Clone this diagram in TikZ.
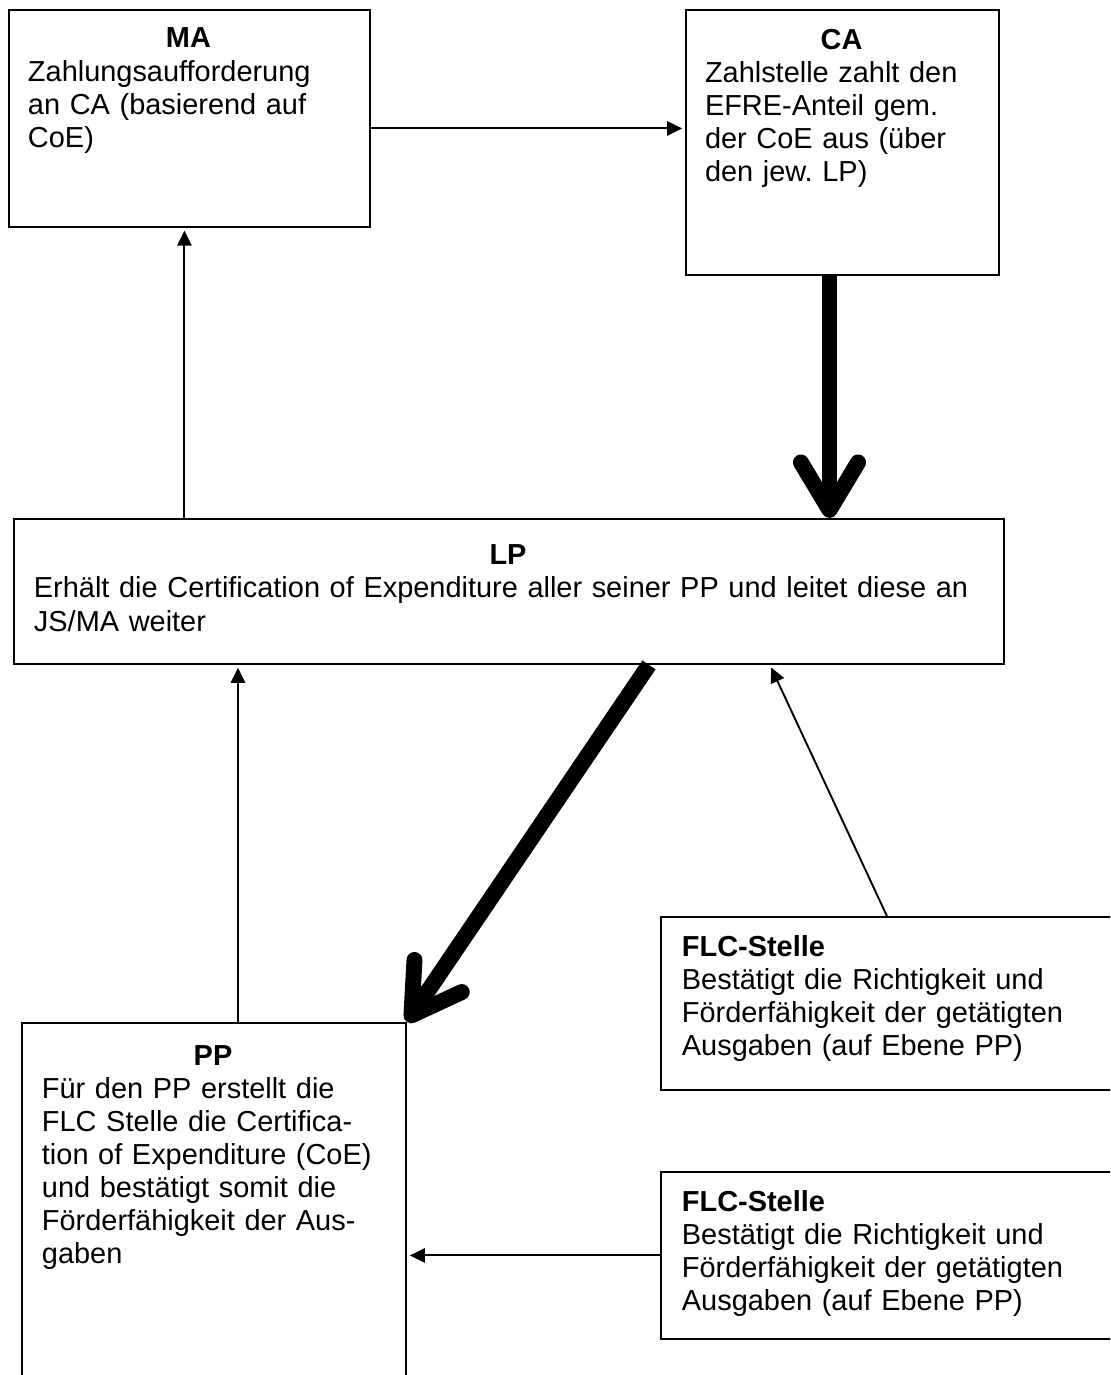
\documentclass[tikz,border=0pt]{standalone}
\usepackage{fontspec}
\setmainfont{Liberation Sans}
\usetikzlibrary{arrows.meta,calc,positioning}
\frenchspacing

\tikzset{
  box/.style={draw, line width=0.8pt, rectangle, anchor=north west, inner sep=0pt},
  boxtext/.style={inner sep=0pt, outer sep=0pt, align=left, anchor=north west,
    font=\fontsize{12.15pt}{13.9pt}\selectfont},
  flow/.style={line width=0.8pt, -{Triangle[length=6.3pt,width=6pt]}, shorten >=1.2pt},
  fat/.style={line width=6.7pt, -{Straight Barb[length=20pt,width=24pt,round]}},
}

\begin{document}
\begin{tikzpicture}[x=0.42pt, y=-0.42pt]
  \useasboundingbox (0,0) rectangle (1110,1375);
  \clip (0,0) rectangle (1110,1375);

  %%%%% boxes %%%%%
  \node[box, minimum width=151.6pt, minimum height=91.1pt] (ma) at (8,9) {};
  \node[box, minimum width=131.5pt, minimum height=111.3pt] (ca) at (685,9) {};
  \node[box, minimum width=415.8pt, minimum height=60.9pt] (lp) at (13,518) {};
  \node[box, minimum width=161.3pt, minimum height=151.2pt] (pp) at (21,1022) {};
  \node[box, minimum width=189.8pt, minimum height=72.7pt] (flca) at (660,916) {};
  \node[box, minimum width=189.8pt, minimum height=70.1pt] (flcb) at (660,1171) {};

  %%%%% texts %%%%%
  \node[boxtext, text width=134.8pt, below right=8pt and 8.4pt of ma.north west] (ma-text)
    {{\centering\bfseries MA\par}
     Zahlungsaufforderung\\an CA (basierend auf\\CoE)};
  \node[boxtext, text width=114.7pt, below right=8.4pt and 8.4pt of ca.north west] (ca-text)
    {{\centering\bfseries CA\par}
     Zahlstelle zahlt den\\EFRE-Anteil gem.\\der CoE aus (über\\den jew. LP)};
  \node[boxtext, text width=398.2pt, below right=11.3pt and 8.8pt of lp.north west] (lp-text)
    {{\centering\bfseries LP\par}
     Erhält die Certification of Expenditure aller seiner PP und leitet diese an\\JS/MA weiter};
  \node[boxtext, text width=143.7pt, below right=9.7pt and 8.8pt of pp.north west] (pp-text)
    {{\centering\bfseries PP\par}
     Für den PP erstellt die\\FLC Stelle die Certifica-\\tion of Expenditure (CoE)\\und bestätigt somit die\\Förderfähigkeit der Aus-\\gaben};
  \node[boxtext, text width=180pt, below right=8pt and 9.2pt of flca.north west] (flca-text)
    {\textbf{FLC-Stelle}\\Bestätigt die Richtigkeit und\\Förderfähigkeit der getätigten\\Ausgaben (auf Ebene PP)};
  \node[boxtext, text width=180pt, below right=8pt and 9.2pt of flcb.north west] (flcb-text)
    {\textbf{FLC-Stelle}\\Bestätigt die Richtigkeit und\\Förderfähigkeit der getätigten\\Ausgaben (auf Ebene PP)};

  %%%%% connectors %%%%%
  \coordinate (ma-out) at ($(ma.east)+(0,10)$);
  \draw[flow] (ma-out) -- (ma-out -| ca.west);

  \coordinate (ma-in) at ($(ma.south)+(-5,0)$);
  \draw[flow] (ma-in |- lp.north) -- (ma-in);

  \coordinate (ca-out) at ($(ca.south)+(-13,0)$);
  \draw[fat] (ca-out) -- (ca-out |- lp.north);

  \coordinate (lp-out) at ($(lp.south)+(140,0)$);
  \draw[fat] (lp-out) -- (pp.north east);

  \coordinate (pp-out) at ($(pp.north)+(24,0)$);
  \draw[flow] (pp-out) -- (pp-out |- lp.south);

  \coordinate (lp-in) at ($(lp.south east)+(-235,0)$);
  \draw[flow] (flca.north) -- (lp-in);

  \draw[flow] (flcb.west) -- (flcb.west -| pp.east);
\end{tikzpicture}
\end{document}
